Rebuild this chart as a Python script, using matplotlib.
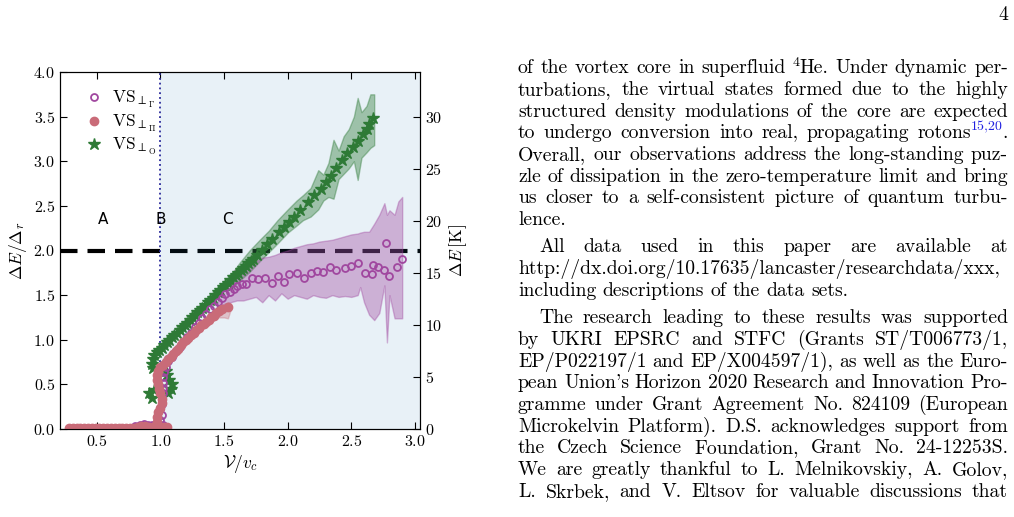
import matplotlib
matplotlib.use('Agg')
import matplotlib.pyplot as plt

# ---------------- data ----------------
# VS_perp_Gamma : open purple circles
gam_x = [0.80, 0.84, 0.87, 0.90, 0.93, 0.96, 0.99, 1.02,
         1.00, 1.01, 1.00, 1.01, 1.01, 1.02, 1.02, 1.02, 1.02, 1.03, 1.04, 1.06, 1.09,
         1.12, 1.15, 1.18, 1.21, 1.24, 1.27, 1.30, 1.33, 1.36, 1.39, 1.42, 1.45, 1.48,
         1.51, 1.55, 1.58, 1.60, 1.64, 1.67, 1.72, 1.77, 1.82, 1.88, 1.92, 1.97, 2.01,
         2.07, 2.13, 2.18, 2.23, 2.28, 2.33, 2.38, 2.45, 2.50, 2.55, 2.61, 2.66, 2.67,
         2.71, 2.76, 2.77, 2.80, 2.86, 2.90]
gam_y = [0.03, 0.05, 0.06, 0.04, 0.04, 0.03, 0.05, 0.04,
         0.10, 0.16, 0.22, 0.28, 0.34, 0.40, 0.46, 0.52, 0.58, 0.64, 0.70, 0.76, 0.81,
         0.87, 0.92, 0.98, 1.03, 1.08, 1.14, 1.19, 1.24, 1.29, 1.34, 1.38, 1.42, 1.47,
         1.51, 1.54, 1.57, 1.60, 1.62, 1.63, 1.69, 1.68, 1.69, 1.64, 1.71, 1.65, 1.74,
         1.75, 1.69, 1.75, 1.77, 1.76, 1.82, 1.78, 1.80, 1.83, 1.86, 1.75, 1.74, 1.84,
         1.81, 1.78, 2.08, 1.71, 1.81, 1.90]
gam_band_x = [1.45, 1.50, 1.55, 1.60, 1.65, 1.70, 1.75, 1.80, 1.85, 1.90, 1.95, 2.00,
              2.05, 2.10, 2.15, 2.20, 2.25, 2.30, 2.35, 2.40, 2.45, 2.50, 2.55, 2.57,
              2.60, 2.64, 2.68, 2.72, 2.76, 2.78, 2.80, 2.84, 2.87, 2.90]
gam_band_lo = [1.38, 1.40, 1.42, 1.44, 1.44, 1.46, 1.48, 1.42, 1.50, 1.44, 1.52, 1.46,
               1.50, 1.48, 1.46, 1.50, 1.48, 1.47, 1.50, 1.48, 1.49, 1.48, 1.50, 1.59,
               1.42, 1.28, 1.22, 1.30, 1.61, 0.97, 1.50, 1.24, 1.24, 1.24]
gam_band_hi = [1.50, 1.62, 1.72, 1.80, 1.84, 1.86, 1.88, 1.92, 1.93, 1.95, 1.98, 2.00,
               2.03, 2.05, 2.07, 2.08, 2.10, 2.11, 2.12, 2.14, 2.16, 2.18, 2.19, 2.20,
               2.21, 2.21, 2.30, 2.40, 2.53, 2.40, 2.45, 2.40, 2.55, 2.60]

# VS_perp_Pi : filled pink circles
pi_x = [0.28, 0.31, 0.34, 0.37, 0.40, 0.43, 0.46, 0.49, 0.52, 0.55, 0.58, 0.61, 0.64,
        0.67, 0.70, 0.73, 0.76, 0.79, 0.82, 0.85, 0.88, 0.91, 0.94, 0.97, 1.00, 1.03,
        1.05,
        0.97, 0.97, 0.98, 1.00, 1.01, 1.01, 1.00, 0.99, 0.98, 0.97, 0.97, 0.98, 1.00,
        1.02, 1.04, 1.06, 1.08,
        1.10, 1.12, 1.14, 1.16, 1.18, 1.20, 1.22, 1.24, 1.26, 1.28, 1.30, 1.32, 1.34,
        1.36, 1.38, 1.40, 1.42, 1.44, 1.46, 1.48, 1.53]
pi_y = [0.01, 0.01, 0.01, 0.01, 0.01, 0.01, 0.01, 0.01, 0.01, 0.01, 0.01, 0.01, 0.01,
        0.01, 0.01, 0.01, 0.01, 0.01, 0.02, 0.03, 0.03, 0.02, 0.02, 0.02, 0.02, 0.02,
        0.02,
        0.08, 0.13, 0.19, 0.24, 0.29, 0.34, 0.40, 0.45, 0.50, 0.55, 0.60, 0.65, 0.69,
        0.72, 0.75, 0.78, 0.81,
        0.84, 0.87, 0.90, 0.94, 0.97, 1.00, 1.02, 1.05, 1.08, 1.11, 1.13, 1.16, 1.18,
        1.20, 1.22, 1.25, 1.27, 1.30, 1.32, 1.35, 1.37]
pi_band_x = [1.40, 1.45, 1.50, 1.53, 1.55]
pi_band_lo = [1.20, 1.25, 1.25, 1.24, 1.33]
pi_band_hi = [1.28, 1.34, 1.40, 1.42, 1.40]

# VS_perp_O : green stars
o_x = [0.91, 0.93, 0.95, 1.06, 1.08, 1.09, 1.07, 1.05, 1.04, 0.94, 0.93, 0.94, 0.95,
       0.97, 0.99,
       1.01, 1.03, 1.05, 1.07, 1.09, 1.11, 1.13, 1.15, 1.17, 1.19, 1.21, 1.23, 1.25,
       1.27, 1.29, 1.31, 1.33, 1.35, 1.37, 1.39, 1.41, 1.43, 1.45, 1.47, 1.49, 1.51,
       1.53, 1.55, 1.57, 1.59, 1.61, 1.63, 1.65, 1.67, 1.69, 1.71, 1.73, 1.76, 1.80,
       1.84, 1.88, 1.93, 1.97, 2.01, 2.05, 2.10, 2.16, 2.21, 2.26, 2.30, 2.34, 2.38,
       2.43, 2.47, 2.51, 2.55, 2.59, 2.62, 2.64, 2.67]
o_y = [0.40, 0.35, 0.44, 0.40, 0.45, 0.50, 0.55, 0.60, 0.65, 0.68, 0.73, 0.78, 0.83,
       0.86, 0.88,
       0.91, 0.94, 0.97, 1.00, 1.03, 1.05, 1.08, 1.11, 1.14, 1.17, 1.19, 1.22, 1.25,
       1.28, 1.31, 1.33, 1.36, 1.39, 1.42, 1.45, 1.47, 1.50, 1.53, 1.56, 1.59, 1.61,
       1.64, 1.67, 1.70, 1.72, 1.75, 1.78, 1.80, 1.83, 1.86, 1.88, 1.91, 1.95, 2.01,
       2.07, 2.13, 2.21, 2.26, 2.32, 2.38, 2.45, 2.54, 2.62, 2.69, 2.77, 2.84, 2.92,
       3.01, 3.09, 3.16, 3.23, 3.30, 3.36, 3.42, 3.48]
o_band_x = [1.55, 1.62, 1.70, 1.78, 1.85, 1.92, 2.00, 2.07, 2.12, 2.18, 2.24, 2.28,
            2.32, 2.36, 2.40, 2.44, 2.48, 2.52, 2.55, 2.58, 2.62, 2.65, 2.68]
o_band_lo = [1.56, 1.66, 1.76, 1.88, 1.98, 2.08, 2.20, 2.28, 2.34, 2.38, 2.46, 2.56,
             2.60, 2.58, 2.80, 2.86, 2.92, 3.00, 2.79, 3.04, 3.10, 3.15, 3.18]
o_band_hi = [1.72, 1.86, 2.00, 2.12, 2.22, 2.34, 2.46, 2.56, 2.62, 2.70, 2.90, 2.85,
             2.98, 3.24, 3.12, 3.28, 3.36, 3.50, 3.71, 3.55, 3.62, 3.75, 3.75]

labels = [r'$\mathrm{VS}_{\perp_{\Gamma}}$', r'$\mathrm{VS}_{\perp_{\Pi}}$',
          r'$\mathrm{VS}_{\perp_{\mathrm{O}}}$']
gap_K = 8.58   # roton gap, converts dE/Delta_r to K

# page text on the right (one entry per printed line)
para1 = [
    ['of', 'the', 'vortex', 'core', 'in', 'superfluid', [('4', 's'), ('He.', 'n')],
     'Under', 'dynamic', 'per-'],
    'turbations, the virtual states formed due to the highly',
    'structured density modulations of the core are expected',
    ['to', 'undergo', 'conversion', 'into', 'real,', 'propagating',
     [('rotons', 'n'), ('15,20', 'b'), ('.', 'n')]],
    'Overall, our observations address the long-standing puz-',
    'zle of dissipation in the zero-temperature limit and bring',
    'us closer to a self-consistent picture of quantum turbu-',
    'lence.',
]
para2 = [
    'All data used in this paper are available at',
    'http://dx.doi.org/10.17635/lancaster/researchdata/xxx,',
    'including descriptions of the data sets.',
]
para3 = [
    'The research leading to these results was supported',
    'by UKRI EPSRC and STFC (Grants ST/T006773/1,',
    'EP/P022197/1 and EP/X004597/1), as well as the Euro-',
    "pean Union's Horizon 2020 Research and Innovation Pro-",
    'gramme under Grant Agreement No. 824109 (European',
    'Microkelvin Platform). D.S. acknowledges support from',
    'the Czech Science Foundation, Grant No. 24-12253S.',
    'We are greatly thankful to L. Melnikovskiy, A. Golov,',
    'L. Skrbek, and V. Eltsov for valuable discussions that',
]

# ---------------- style ----------------
plt.rcParams['font.family'] = 'serif'
plt.rcParams['font.serif'] = ['cmr10']
plt.rcParams['mathtext.fontset'] = 'cm'
plt.rcParams['axes.formatter.use_mathtext'] = True

W, H = 1014, 517
fig = plt.figure(figsize=(W / 100, H / 100), dpi=100)
ax = fig.add_axes([60 / W, 1 - 429 / H, 360 / W, 357 / H])

purple = '#a0479f'
pink = '#c96b78'
green = '#2e7a36'

ax.axhline(2.0, color='black', lw=3, dashes=(4.2, 2.4), zorder=1)
ax.axvspan(1.0, 3.1, color='tab:blue', alpha=0.1, lw=0, zorder=1.5)
ax.axvline(1.0, color='#2a2a9a', lw=1.3, ls=':', zorder=1.6)

ax.fill_between(o_band_x, o_band_lo, o_band_hi, color=green, alpha=0.4, lw=1, zorder=2)
ax.fill_between(gam_band_x, gam_band_lo, gam_band_hi, color=purple, alpha=0.38, lw=1, zorder=2)
ax.fill_between(pi_band_x, pi_band_lo, pi_band_hi, color=pink, alpha=0.35, lw=1, zorder=2)

ax.plot(o_x, o_y, ls='none', marker='*', ms=9, color=green, zorder=3, label=labels[2])
ax.plot(gam_x, gam_y, ls='none', marker='o', ms=5, mfc='none', mec=purple, mew=1.3,
        zorder=4, label=labels[0])
ax.plot(pi_x, pi_y, ls='none', marker='o', ms=6, color=pink, zorder=5, label=labels[1])

for lab, xx in zip(['A', 'B', 'C'], [0.55, 1.0, 1.53]):
    ax.text(xx, 2.35, lab, ha='center', va='center', fontsize=11, family='DejaVu Sans')

ax.set_xlim(0.21, 3.04)
ax.set_ylim(0, 4)
ax.set_xticks([0.5, 1.0, 1.5, 2.0, 2.5, 3.0])
ax.set_yticks([0, 0.5, 1.0, 1.5, 2.0, 2.5, 3.0, 3.5, 4.0])
ax.tick_params(direction='in', top=True, right=False, labelsize=11.5, length=5)
ax.set_xlabel(r'$\mathcal{V}/v_c$', fontsize=12.5, labelpad=3)
ax.set_ylabel(r'$\Delta E/\Delta_r$', fontsize=12.5, labelpad=3)

ax2 = ax.twinx()
ax2.set_ylim(0, 4 * gap_K)
ax2.set_yticks([0, 5, 10, 15, 20, 25, 30])
ax2.tick_params(direction='in', labelsize=11.5, length=5)
ax2.set_ylabel(r'$\Delta E\,[\mathrm{K}]$', fontsize=12.5, labelpad=4)

h, l = ax.get_legend_handles_labels()
order = [1, 2, 0]
ax.legend([h[i] for i in order], [l[i] for i in order], loc='upper left',
          bbox_to_anchor=(0.023, 0.996), frameon=False, fontsize=12.5,
          handletextpad=0.42, labelspacing=0.15, handlelength=1.2)

# ---------------- page text ----------------
renderer = fig.canvas.get_renderer()
FS = 14.2
SUP_FS = 10.0
X0, X1 = 518, 1008
SPACE = 6.5


def piece_width(text, size):
    t = fig.text(0, 0, text, fontsize=size)
    w = t.get_window_extent(renderer).width
    t.remove()
    return w


def token_pieces(tok):
    if isinstance(tok, str):
        return [(tok, 'n')]
    return tok


def draw_line(y, tokens, justify=True, indent=0):
    if isinstance(tokens, str):
        tokens = tokens.split()
    toks = [token_pieces(t) for t in tokens]
    widths = []
    for pcs in toks:
        widths.append([piece_width(s, FS if k == 'n' else SUP_FS) for s, k in pcs])
    total = sum(sum(w) for w in widths)
    start = X0 + indent
    if justify and len(toks) > 1:
        gap = (X1 - start - total) / (len(toks) - 1)
    else:
        gap = SPACE
    x = start
    for pcs, ws in zip(toks, widths):
        for (s, k), w in zip(pcs, ws):
            if k == 'n':
                fig.text(x / W, 1 - y / H, s, fontsize=FS, va='baseline')
            else:
                fig.text(x / W, 1 - (y - 7.5) / H, s, fontsize=SUP_FS, va='baseline',
                         color='#2020e0' if k == 'b' else 'black')
            x += w
        x += gap


LS = 21.67
y = 73.3
for i, line in enumerate(para1):
    draw_line(y, line, justify=(i < len(para1) - 1))
    y += LS
y += 5.8
for i, line in enumerate(para2):
    draw_line(y, line, justify=(i == 0), indent=21 if i == 0 else 0)
    y += LS
y += 5.8
for i, line in enumerate(para3):
    draw_line(y, line, justify=True, indent=21 if i == 0 else 0)
    y += LS

fig.text(1008 / W, 1 - 20 / H, '4', fontsize=FS, ha='right', va='baseline')

fig.savefig('out.png', dpi=100)
